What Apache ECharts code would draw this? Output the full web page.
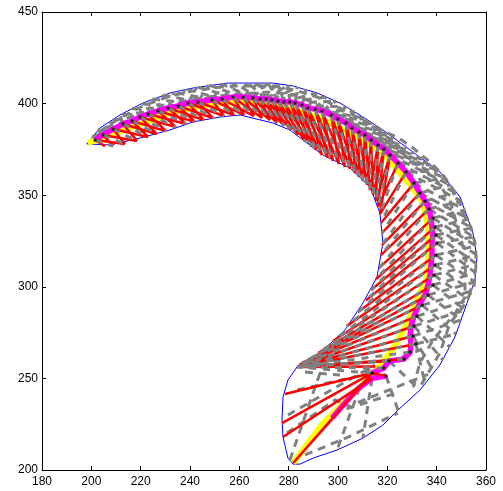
<!DOCTYPE html>
<html><head><meta charset="utf-8">
<style>html,body{margin:0;padding:0;background:#fff}#c{width:503px;height:491px}</style>
<script src="https://cdn.jsdelivr.net/npm/echarts@6/dist/echarts.min.js"></script>
</head><body><div id="c"></div>
<script>
const xTicks=[180,200,220,240,260,280,300,320,340,360];
const yTicks=[200,250,300,350,400,450];
const axisX=[201.5,204.7,208.8,212.8,216.5,219.7,223,227,231.1,235.2,239.2,243.2,248.9,253,257.4,261.5,265.5,268.4,270.8,273.2,275.7,278.1,280.5,282.6,285.4,287.8,290.7,293.5,297.2,300,303.2,305.7,308.5,310.9,313.4,316.2,318.6,321.1,324.3,327.6,330.8,333.2,335.3,336.9,338.5,339.3,339.7,340.1,339.7,339.3,338.9,338.5,336.5,334.1,332,330.8,330.4,331.6];
const axisY=[380.1,382.9,386.1,388.9,390.5,392.7,394.3,396,397.6,398.7,400.3,400.9,402,402.5,403.6,403.6,403.1,402.5,402.5,402,401.4,400.9,400.9,400.3,399.2,397.6,397,396,393.8,391.6,389.4,386.7,384.5,382.9,380.1,377.4,375.2,371.9,367.6,362.7,356.6,351.2,346.8,342.5,337.5,332.6,328.3,323.9,317.3,311.9,306.4,301,295.5,290,284,278.6,273.1,268.8];
const innerX=[205.5,208.8,213.6,218.5,223,226.6,230.3,234.3,238.4,242,245.7,249.3,253.8,257.8,261.9,266,269.2,272.4,275.3,278.1,280.9,283.8,286.6,289.1,291.1,293.5,295.9,298,300.4,302.8,304.9,306.9,308.5,310.1,311.8,313,314.2,315.4,316.2,317,317.4,317.8,317.8,317.4,316.6,315.4,313.4,311.4,308.1,303.6,298,291.9,287.8,285.4,284.2,283.4,283.4,283.4];
const innerY=[376.8,376.8,377.9,379.6,381.8,383.4,385,387.2,388.9,390,391,392.1,393.2,393.8,393.8,393.2,392.1,391,389.4,387.8,385.6,382.9,379.6,376.8,374.7,371.9,370.3,368.7,367,365.4,364.3,362.1,359.9,357.7,355.6,352.8,350.1,346.8,343.5,339.7,334.8,329.3,322.8,317.3,310.2,304.2,298.2,292.7,286.2,278.6,270.4,263.8,260,258.4,257.3,256.2,256.2,256.2];
const outerX=[200.3,202.7,207.6,211.6,215.7,220.1,224.6,229.1,233.5,238,242.8,247.7,253,258.2,263.5,267.6,271.6,275.7,279.7,283.4,287,291.1,295.1,299.2,303.2,306.9,310.5,313.8,317.4,320.7,324.3,327.6,330.8,334.1,337.3,340.5,343,345.4,347.8,349.9,351.5,353.1,354.3,355.1,355.9,356.3,356.3,355.9,355.5,354.3,353.1,351.5,349.9,347.8,345.4,342.6,338.9,335.3];
const outerY=[381.8,385.6,390.5,393.8,397.1,399.8,402.5,404.7,406.3,408,409.1,410.1,410.7,411.2,411.2,411.2,411.2,410.7,410.1,409.1,407.4,405.8,403.6,401.4,398.1,395.4,392.1,389.4,386.1,382.9,379.6,376.3,373,369.8,366.5,363.2,359.4,355.6,351.2,346.8,341.9,337,332.1,327.2,322.3,317.3,312.4,307.5,302.6,297.7,292.8,287.3,281.9,274.2,267.1,260,253.5,246.9];
const blueX=[198.2,203.5,211.6,220.9,231.9,241.2,255,264.3,273.6,281.8,291.5,300.8,310.1,318.2,329.2,341.3,349.5,354.7,356.3,355.5,352.3,347.4,341.3,333.2,324.3,318.2,310.1,299.6,289.9,284.6,281.8,279.7,277.7,277.3,277.7,279.7,283.4,292.7,302.8,310.1,315.8,318.2,317,313,304.9,293.9,287.4,280.5,273.6,260.3,252.2,241.2,231.9,219.7,207.6,198.2];
const blueY=[378,386.7,393.8,400.3,405.8,408.5,411.2,411.2,411.2,409.6,405.8,400.3,392.7,385.6,374.7,362.7,349,329.4,316.3,303.7,291.1,272.6,257.3,243.6,232.7,224.5,217.4,210.9,206.5,203.2,203.2,206.5,218,227.3,239.8,249.1,256.2,263.8,276.4,291.1,305.3,323.9,340.3,354.5,364.8,371.9,378.5,385.6,389.4,393.8,392.7,390,385.6,381.2,377.4,378];
const yellowX=[198.6,215.7,231.9,248.1,264.3,275.7,292.7,310.1,318.2,326.4,330,334.5,336.5,336.5,336.1,332.4,329.2,325.1,321.9,317.8,313.8,294,281.8];
const yellowY=[378.5,386.7,394.9,399.8,401.4,399.2,392.1,380.1,373,359.9,354.5,345.7,332.6,316.3,305.3,293.9,283.5,272.6,265.5,258.4,251.8,225.6,203.8];
const tailX=[329.2,326.8,320.7,318.6,313.8];
const tailY=[264.4,260.6,259.5,255.7,252.9];
const spurX=[319.5,313.8,308.9,304.9,297.6];
const spurY=[251.3,250,245.3,239.8,228.4];
const magRightX=[337.7,338.1,338.5,338.1,338.1,337.7,337.3,336.5,335.3,332.8,330.8,329.6,329.2,329.6];
const chain1X=[199.5,203.5,211.6,220.9,231.9,241.2,255,264.3,273.6,282.6,291.5,300.8,310.1,317,323.9,330.4,337.3,342.6,348.2,351.5,353.9,355.9,355.9,355.1,350.7,345.4,341.3,333.2];
const chain1Y=[379,385,392.1,398.7,404.1,406.9,409.6,409.6,409.6,407.4,403.6,397.6,391,385.6,381.8,375.8,368.1,361,350.1,338.1,332.6,321.7,310.8,299.9,289,280.2,263.8,245.3];
const chain2X=[225,235.9,246.9,260.3,272.4,283.4,298,307.7,323.1,339.3,345.4,349.9,351.9,351.5,351.5,347.8,338.5,333.2,330.4];
const chain2Y=[394.9,400.9,403.6,405.2,406.3,404.7,394.9,385.6,375.8,359.4,347.4,325.5,316.3,305.3,294.4,286.2,270.9,258.4,244.7];
const extraRed=[[[326.8,260.6],[283.4,256.2]],[[320.7,259.5],[283.4,256.2]],[[313.8,252.9],[278.5,241.5]],[[313.8,252.9],[277.3,225.6]],[[313.8,250],[277.7,218]],[[313.8,252.9],[281.8,203.8]],[[297.6,227.8],[281.8,203.8]],[[315,256.5],[283.4,256.2]],[[319.5,251.3],[313.8,252.9]]];
const extraGrey=[[[286.6,208.2],[304.1,218],[324.3,231.1]],[[298,231.1],[325.1,242.6]],[[292.7,252.9],[280.5,205.4]],[[283.4,243.7],[313.8,252.9]],[[279.7,230],[300.8,246.4],[315,257.3]],[[279.3,220.2],[298.8,238.2],[308.1,232.7]],[[286.6,253.5],[300.8,251.8]],[[320.7,259.5],[333.2,243.6]],[[319.5,251.3],[324.3,232.7]],[[313.8,250],[310.1,217.4]],[[308.9,245.3],[299.6,210.9]],[[308.1,236.9],[336.5,252.2]],[[310.1,253.5],[333.2,265.5]]];

const BR=['-','-'];
const zip=(a,b)=>a.map((v,i)=>[v,b[i]]);
const ribs=[],innerGrey=[],outerGrey=[];
axisX.forEach((x,i)=>{
  const p=[x,axisY[i]];
  ribs.push(p,[innerX[i],innerY[i]],BR);
  if(i<38) ribs.push(p,[innerX[i+2],innerY[i+2]],BR);
  const j=Math.min(i+1,axisX.length-1);
  innerGrey.push(p,[innerX[j],innerY[j]],BR);
  outerGrey.push(p,[outerX[i],outerY[i]],BR);
  const k=Math.max(i-4,0);
  outerGrey.push(p,[outerX[k],outerY[k]],BR);
});
extraRed.forEach(s=>ribs.push(...s,BR));
extraGrey.forEach(s=>outerGrey.push(...s,BR));
outerGrey.push(...zip(chain1X,chain1Y),BR,...zip(chain2X,chain2Y),BR);
tailX.forEach((x,i)=>{innerGrey.push([x,tailY[i]],[283.4,256.2],BR);});

const line=(data,color,width,z,type)=>({type:'line',data,showSymbol:false,symbol:'none',silent:true,z,clip:true,
  connectNulls:false,lineStyle:{color,width,type:type||'solid',cap:'butt',join:'miter'}});
const magBand=zip(axisX,axisY).map((p,i)=>i>=44?[magRightX[i-44],p[1]]:p);
const magenta=magBand.concat(zip(tailX,tailY),[BR],zip(spurX,spurY));
const dots=zip(axisX,axisY).concat(zip(tailX,tailY),[[319.5,251.3]]);
const ax=(o)=>Object.assign({type:'value',splitLine:{show:false},axisTick:{inside:true,length:4,lineStyle:{color:'#000',width:1}},
  axisLine:{show:true,onZero:false,lineStyle:{color:'#000',width:1}},
  axisLabel:{color:'#000',fontFamily:'Liberation Sans',fontSize:12,margin:5}},o);
const chart=echarts.init(document.getElementById('c'),null,{renderer:'canvas'});
chart.setOption({animation:false,backgroundColor:'#fff',
  grid:{left:42,top:12,width:444,height:458,containLabel:false},
  xAxis:[ax({min:180,max:360,interval:20,position:'bottom',axisLabel:{color:'#000',fontFamily:'Liberation Sans',fontSize:12,margin:6,formatter:v=>xTicks.includes(v)?String(v):''}}),
         ax({min:180,max:360,interval:20,position:'top',axisLabel:{show:false}})],
  yAxis:[ax({min:200,max:450,interval:50,position:'left',axisLabel:{color:'#000',fontFamily:'Liberation Sans',fontSize:12,margin:4,formatter:v=>yTicks.includes(v)?String(v):''}}),
         ax({min:200,max:450,interval:50,position:'right',axisLabel:{show:false}})],
  series:[
    line(zip(blueX,blueY),'#0000ff',1,2),
    line(outerGrey,'#808080',3,3,[8,6]),
    line(zip(yellowX,yellowY),'#ffff00',6,4),
    line(magenta,'#ff00ff',5.5,5),
    line(ribs,'#ff0000',2.5,6),
    line(innerGrey,'#808080',3,7,[7,7]),
    {type:'scatter',data:dots,symbol:'rect',symbolSize:3,itemStyle:{color:'#000'},z:8,silent:true}
  ]});
</script></body></html>
